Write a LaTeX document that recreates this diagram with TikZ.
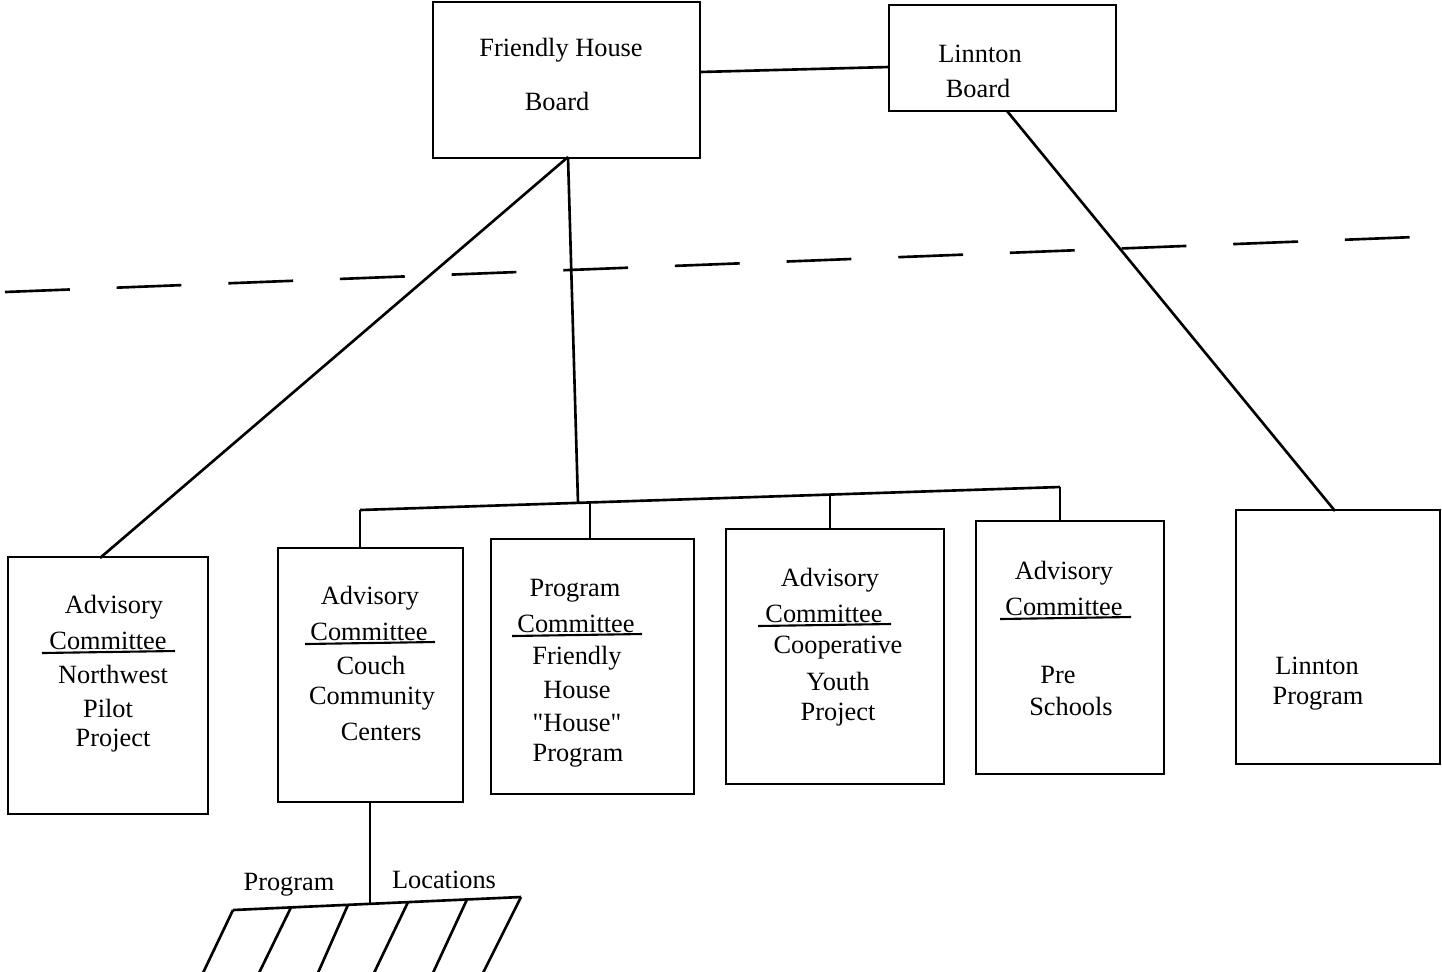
\documentclass[tikz,border=0pt]{standalone}
\usepackage{fontspec}
\setmainfont{Liberation Serif}
\newfontfamily\plainquote{Liberation Serif}[Ligatures=TeXOff]
\usetikzlibrary{fit,calc}
\begin{document}
\begin{tikzpicture}[x=0.02cm,y=-0.02cm,
  box/.style={draw,line width=1.5pt,inner sep=0pt},
  conn/.style={line width=1.5pt},
  lbl/.style={inner sep=0pt,font=\fontsize{15}{18}\selectfont},
  uline/.style={line width=1.2pt}]
\useasboundingbox (0,0) rectangle (1442,971);
% boxes
\node[box,fit={(433,2)(700,158)}] (fh) {};
\node[box,fit={(889,5)(1116,111)}] (lb) {};
\node[box,fit={(8,557)(208,814)}] (nw) {};
\node[box,fit={(278,548)(463,802)}] (cc) {};
\node[box,fit={(491,539)(694,794)}] (pc) {};
\node[box,fit={(726,529)(944,784)}] (cy) {};
\node[box,fit={(976,521)(1164,774)}] (ps) {};
\node[box,fit={(1236,510)(1440,764)}] (lp) {};
% texts
\node[lbl] (t1) at (561,50) {Friendly House};
\node[lbl] (t2) at (557,101) {Board};
\node[lbl] (t3) at (980,54) {Linnton};
\node[lbl] (t4) at (978,88) {Board};
\node[lbl] (n1) at (114,607) {Advisory};
\node[lbl] (n2) at (108,641) {Committee};
\node[lbl] (n3) at (113,674) {Northwest};
\node[lbl] (n4) at (108,708) {Pilot};
\node[lbl] (n5) at (113,741) {Project};
\node[lbl] (c1) at (370,598) {Advisory};
\node[lbl] (c2) at (369,632) {Committee};
\node[lbl] (c3) at (371,665) {Couch};
\node[lbl] (c4) at (372,699) {Community};
\node[lbl] (c5) at (381,732) {Centers};
\node[lbl] (p1) at (575,591) {Program};
\node[lbl] (p2) at (576,624) {Committee};
\node[lbl] (p3) at (577,658) {Friendly};
\node[lbl] (p4) at (577,690) {House};
\node[lbl] (p5) at (577,723) {\plainquote "House"};
\node[lbl] (p6) at (578,756) {Program};
\node[lbl] (y1) at (830,580) {Advisory};
\node[lbl] (y2) at (824,614) {Committee};
\node[lbl] (y3) at (838,648) {Cooperative};
\node[lbl] (y4) at (838,681) {Youth};
\node[lbl] (y5) at (838,715) {Project};
\node[lbl] (s1) at (1064,573) {Advisory};
\node[lbl] (s2) at (1064,607) {Committee};
\node[lbl] (s3) at (1058,675) {Pre};
\node[lbl] (s4) at (1071,706) {Schools};
\node[lbl] (l1) at (1317,666) {Linnton};
\node[lbl] (l2) at (1318,699) {Program};
\node[lbl] (g1) at (289,885) {Program};
\node[lbl] (g2) at (444,880) {Locations};
% underlines
\draw[uline] (42,653) -- (175,651);
\draw[uline] (305,644) -- (435,642);
\draw[uline] (512,636) -- (642,634);
\draw[uline] (758,626) -- (891,624);
\draw[uline] (1000,619) -- (1131,617);
% coordinates
\coordinate (fhb) at (568,157);
\coordinate (nwt) at (100,558);
\coordinate (j) at (578,503);
\coordinate (b1) at (360,510);
\coordinate (b2) at (590,502.5);
\coordinate (b3) at (830,494.5);
\coordinate (b4) at (1060,487);
\coordinate (cct) at (360,548);
\coordinate (pct) at (590,539);
\coordinate (cyt) at (830,529);
\coordinate (pst) at (1060,521);
\coordinate (fhr) at (700,72);
\coordinate (lbl) at (889,67);
\coordinate (lbb) at (1007,111);
\coordinate (lpt) at (1335,511);
\coordinate (ccb) at (370,802);
\coordinate (loc) at (370,903);
\coordinate (d1) at (5,292);
\coordinate (d2) at (1415,237);
% connectors
\draw[conn] (fhr) -- (lbl);
\draw[conn] (fhb) -- (nwt);
\draw[conn] (fhb) -- (j);
\draw[conn] (b1) -- (b4);
\draw[conn] (b1) -- (cct);
\draw[conn] (b2) -- (pct);
\draw[conn] (b3) -- (cyt);
\draw[conn] (b4) -- (pst);
\draw[conn] (lbb) -- (lpt);
\draw[conn] (ccb) -- (loc);
\draw[conn,dash pattern=on 36.9pt off 26.7pt] (d1) -- (d2);
% program locations hatch
\coordinate (h0) at (233,910);
\coordinate (h5) at (521,897);
\draw[conn] (h0) -- (h5);
\foreach \a/\b [count=\i] in {233/202,291/258,348/317,408/373,467/432,521/482}{
  \coordinate (ht\i) at ($(h0)!{(\a-233)/288}!(h5)$);
  \coordinate (hb\i) at (\b,975);
  \draw[conn] (ht\i) -- (hb\i);
}
\end{tikzpicture}
\end{document}
